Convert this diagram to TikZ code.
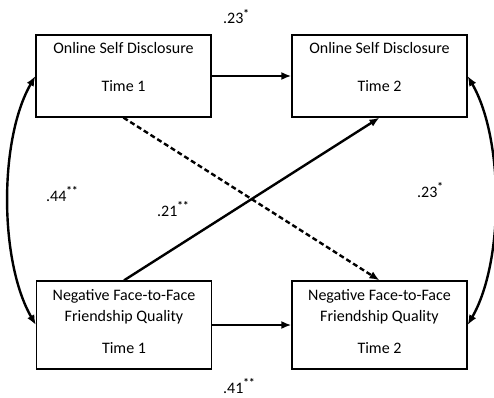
\documentclass[tikz,border=0pt]{standalone}
\usepackage{fontspec}
\setmainfont{Carlito}
\usetikzlibrary{arrows.meta,positioning}

\begin{document}
\begin{tikzpicture}[x=1pt,y=1pt,
  >={Latex[length=10pt,width=8pt]},
  every node/.style={font=\fontsize{16}{21}\selectfont},
  varbox/.style={draw,line width=1.3pt,minimum width=175pt,inner sep=0pt},
  vartext/.style={align=center,inner sep=0pt,anchor=north},
  link/.style={->,line width=2.4pt},
  coef/.style={anchor=base west,inner sep=0pt}]
\useasboundingbox (0,0) rectangle (494,397);
%%the four boxes
\node[varbox,minimum height=82pt] (osd1) at (123.5,321) {};
\node[varbox,minimum height=82pt] (osd2) at (379.5,321) {};
\node[varbox,minimum height=88pt] (ffq1) at (124,72) {};
\node[varbox,minimum height=88pt] (ffq2) at (379.5,72) {};
%%text in the boxes
\node[vartext,below=8pt of osd1.north] (osd1txt) {Online Self Disclosure\\[17pt]Time 1};
\node[vartext,below=8pt of osd2.north] (osd2txt) {Online Self Disclosure\\[17pt]Time 2};
\node[vartext,below=9pt of ffq1.north] (ffq1txt) {Negative Face-to-Face\\Friendship Quality\\[11pt]Time 1};
\node[vartext,below=9pt of ffq2.north] (ffq2txt) {Negative Face-to-Face\\Friendship Quality\\[11pt]Time 2};
%%stability and cross-lagged paths
\draw[link] (osd1) -- (osd2);
\draw[link] (ffq1) -- (ffq2);
\draw[link] (ffq1.north) -- (osd2.south);
\draw[link,dash pattern=on 5pt off 3pt] (osd1.south) -- (ffq2.north);
%%correlations at the sides
\draw[link,<->] (osd1.west) to[out=240,in=120,looseness=0.75] (ffq1.west);
\draw[link,<->] (osd2.east) to[out=-60,in=60,looseness=0.75] (ffq2.east);
%%finally the coefficients
\node[coef] (b1) at (223,373) {.23\textsuperscript{\textbf{*}}};
\node[coef] (r1) at (46,196) {.44\textsuperscript{\textbf{**}}};
\node[coef] (b2) at (157,181) {.21\textsuperscript{\textbf{**}}};
\node[coef] (r2) at (417,200) {.23\textsuperscript{\textbf{*}}};
\node[coef] (b3) at (223,4) {.41\textsuperscript{\textbf{**}}};
\end{tikzpicture}
\end{document}
